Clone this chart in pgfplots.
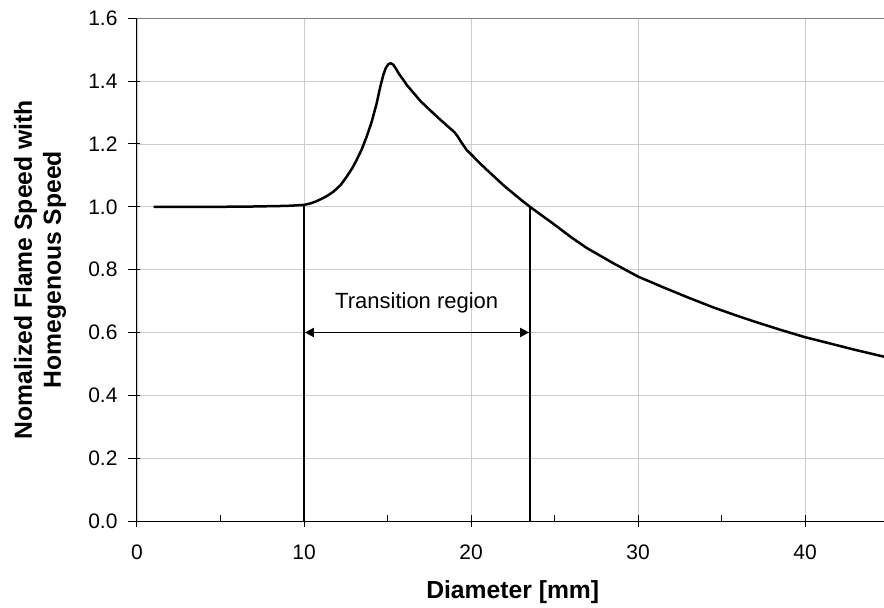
\documentclass[border=0pt]{standalone}
\usepackage{fontspec}
\setmainfont{Liberation Sans}
\usepackage{pgfplots}
\pgfplotsset{compat=1.18}
\usetikzlibrary{arrows.meta}
\begin{document}
\begin{tikzpicture}
\begin{axis}[
  scale only axis, width=747pt, height=502.7pt,
  xmin=0, xmax=44.73, ymin=0, ymax=1.6,
  axis x line*=bottom, axis y line*=left,
  axis line style={black, line width=1pt, -},
  xtick={0,10,20,30,40},
  ytick={0,0.2,0.4,0.6,0.8,1.0,1.2,1.4,1.6},
  grid=major,
  major grid style={color=black!20, line width=0.9pt},
  tick align=outside,
  major tick length=12pt,
  xtick style={black, line width=1pt, yshift=6pt},
  ytick style={black, line width=1pt, xshift=3pt},
  extra x ticks={5,15,25,35},
  extra x tick labels={},
  extra x tick style={grid=none, tick align=inside, major tick length=6pt, xtick style={yshift=-6pt}},
  /pgf/number format/assume math mode=true,
  yticklabel style={xshift=-4pt, /pgf/number format/fixed, /pgf/number format/precision=1, /pgf/number format/fixed zerofill},
  ticklabel style={font=\fontsize{21}{24}\selectfont},
  xticklabel style={yshift=-8pt},
  xlabel={Diameter [mm]},
  ylabel={Nomalized Flame Speed with\\Homegenous Speed},
  label style={font=\bfseries\fontsize{24.7}{29}\selectfont},
  xlabel style={at={(axis description cs:0.503,-0.141)}, anchor=center},
  ylabel style={at={(axis description cs:-0.1299,0.5)}, anchor=center, align=center},
  clip=true,
]
\addplot[black, line width=2.5pt, line join=round] coordinates {
(1,1.000) (3,1.000) (5,1.000) (7,1.001) (9,1.003) (10,1.006)
(10.4,1.011) (10.76,1.018) (11.3,1.032) (11.76,1.048) (12.2,1.070)
(12.56,1.096) (12.9,1.124) (13.15,1.149) (13.45,1.182) (13.75,1.223)
(14.05,1.270) (14.35,1.329) (14.55,1.378) (14.75,1.420) (14.9,1.442)
(15.05,1.454) (15.19,1.457) (15.35,1.452) (15.5,1.440) (15.7,1.422)
(15.95,1.404) (16.15,1.388) (16.6,1.360) (17,1.335) (17.5,1.310)
(18,1.285) (18.4,1.266) (18.74,1.250) (19.0,1.238) (19.2,1.224)
(19.45,1.203) (19.74,1.181) (20.1,1.162) (20.5,1.140) (21,1.115)
(22,1.066) (23,1.022) (23.53,1.000) (24.2,0.974) (24.93,0.946)
(26,0.903) (26.93,0.869) (28.5,0.821) (30,0.778) (31.5,0.744)
(32.92,0.713) (34.5,0.680) (36,0.652) (36.9,0.636) (38.5,0.609)
(40,0.585) (41.5,0.565) (42.9,0.546) (44.73,0.523)
};
\addplot[black, line width=2pt] coordinates {(10,0) (10,1.006)};
\addplot[black, line width=2pt] coordinates {(23.53,0) (23.53,1.0)};
\addplot[black, line width=1.8pt, {Triangle[length=9pt,width=9pt]}-{Triangle[length=9pt,width=9pt]}] coordinates {(10.05,0.6) (23.48,0.6)};
\node[font=\fontsize{22}{25}\selectfont] at (axis cs:16.75,0.696) {Transition region};
\draw[black!50, line width=1.2pt] (axis cs:0,1.6) -- (axis cs:44.73,1.6);
\end{axis}
\pgfresetboundingbox
\path[use as bounding box] ([shift={(-137pt,-86pt)}]current axis.south west) rectangle ([shift={(0pt,18.3pt)}]current axis.north east);
\end{tikzpicture}
\end{document}
